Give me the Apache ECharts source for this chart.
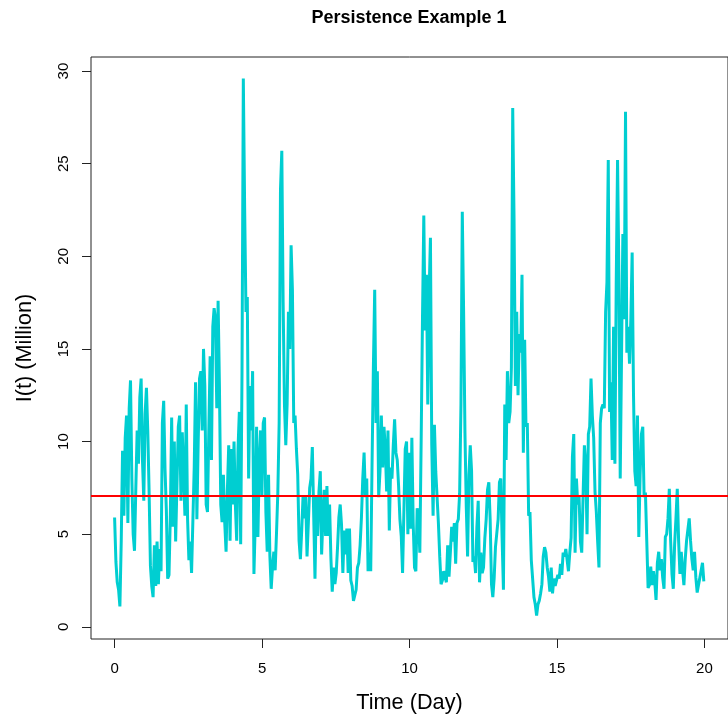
<!DOCTYPE html>
<html>
<head>
<meta charset="utf-8">
<script src="https://cdn.jsdelivr.net/npm/echarts@6/dist/echarts.min.js"></script>
<style>html,body{margin:0;padding:0;background:#fff}#c{width:728px;height:721px}</style>
</head>
<body>
<div id="c"></div>
<script>
// time step between samples (days)
const dt = 0.045;
// I(t) in millions
const infected = [
5.9,3.5,2.4,2.0,1.1,4.6,9.5,6.0,10.2,11.4,
5.6,11.8,13.3,8.0,5.0,4.1,7.5,10.6,8.8,12.4,
13.4,9.0,6.8,11.5,12.9,10.6,7.3,3.3,2.2,1.6,
4.4,2.2,4.6,2.3,4.2,3.0,11.0,12.2,8.5,6.3,
2.6,2.8,6.0,11.3,5.4,10.0,4.6,4.5,10.8,11.4,
6.8,10.5,10.5,6.0,12.0,5.8,3.6,4.6,2.9,2.8,
8.6,13.2,5.8,10.0,13.4,13.8,10.6,15.0,13.0,
6.6,6.2,10.6,14.6,9.0,16.2,17.2,16.6,11.8,17.6,
13.0,6.6,5.65,8.2,5.6,4.05,7.4,9.8,4.65,9.6,
6.6,10.0,6.6,4.65,9.6,11.6,4.45,13.6,29.6,22.6,
17.0,17.8,8.0,13.0,10.6,13.8,2.85,5.65,10.8,4.85,
8.8,10.6,7.05,11.0,11.3,6.2,4.05,8.2,3.85,2.05,
3.25,4.05,3.05,5.05,7.25,11.0,23.6,25.7,17.5,12.0,
9.8,12.0,17.0,15.0,20.6,18.2,11.0,11.4,9.6,8.2,
4.65,3.65,5.2,7.05,5.85,
7.0,3.8,5.6,7.5,8.0,9.7,9.6,2.6,7.0,4.9,
7.3,8.4,3.9,5.9,7.4,4.9,7.6,4.9,6.6,3.7,
1.9,3.2,2.3,2.9,4.3,5.9,6.6,5.5,2.9,5.2,
3.9,5.3,2.9,5.3,2.5,2.2,1.4,1.3,2.0,3.2,
3.45,4.4,5.9,8.0,9.4,7.0,8.0,3.0,4.0,3.0,
8.8,14.0,18.2,11.0,13.8,7.0,8.4,11.4,8.6,10.8,
9.6,7.3,10.6,5.2,8.6,8.0,9.8,11.2,9.4,9.0,
7.6,5.8,4.9,2.9,3.0,
9.6,10.0,5.0,9.4,5.3,10.2,5.6,3.2,3.0,6.4,
5.8,4.0,10.0,16.6,22.2,16.0,19.0,12.0,18.0,21.0,
9.8,6.0,10.9,8.4,7.0,5.6,3.8,2.3,2.5,3.0,
3.1,2.4,4.4,2.7,4.0,5.4,4.6,5.6,3.4,5.6,
5.8,7.2,12.0,22.4,17.0,10.5,6.5,3.8,8.2,9.8,
8.4,3.5,3.8,2.9,5.4,6.8,2.4,4.0,2.9,3.2,
4.8,5.8,7.4,7.8,5.8,2.3,1.6,2.6,4.3,4.4,
5.8,7.8,8.0,4.8,2.0,
12.0,9.0,13.8,11.0,11.6,14.0,28.0,22.0,13.0,17.0,
12.5,15.8,14.8,19.0,9.4,15.5,10.8,11.0,6.0,6.2,
3.6,2.6,1.6,1.2,0.6,1.2,1.4,1.8,2.3,3.8,
4.3,4.0,3.2,2.7,1.9,3.2,1.8,2.6,2.2,2.5,
2.8,2.6,3.4,2.8,4.0,3.8,4.2,3.6,3.0,4.0,
4.8,9.2,10.4,4.0,8.0,6.6,7.0,4.6,4.0,7.0,
9.8,8.8,5.0,10.4,10.8,13.4,11.4,10.2,7.3,6.2,
4.6,3.2,11.0,11.8,12.0,
11.8,17.0,18.6,25.2,11.6,13.2,9.0,16.2,8.8,18.6,
25.2,19.0,8.0,8.0,21.2,16.6,27.8,14.8,16.2,14.2,
16.6,20.2,12.6,8.4,7.6,11.4,4.85,8.2,10.4,10.8,
7.0,7.25,4.65,2.1,2.25,3.25,2.25,3.0,2.45,1.45,
3.45,4.05,3.05,3.65,2.65,2.05,4.85,5.0,5.85,7.45,
4.65,2.85,2.05,4.45,5.85,7.45,4.65,2.85,4.05,3.05,
2.25,3.65,4.65,5.25,5.85,4.65,3.65,3.05,4.05,2.65,
1.85,2.25,2.65,3.05,3.45,2.45
];
const threshold = 7.1;
const xTicks = [0, 5, 10, 15, 20];
const yTicks = [0, 5, 10, 15, 20, 25, 30];

const seriesData = infected.map((v, i) => [i * dt, v]);
const font = '"Liberation Sans", Arial, Helvetica, sans-serif';

const chart = echarts.init(document.getElementById('c'), null, {renderer: 'canvas'});
chart.setOption({
  animation: false,
  backgroundColor: '#ffffff',
  title: {
    text: 'Persistence Example 1',
    left: 409, top: 9, textAlign: 'center', padding: 0,
    textStyle: {fontFamily: font, fontSize: 18, fontWeight: 'bold', color: '#000'}
  },
  grid: {
    left: 91, top: 57, width: 638, height: 582,
    show: true, borderColor: '#222', borderWidth: 1, backgroundColor: 'transparent'
  },
  xAxis: {
    type: 'value', min: -0.8, max: 20.8,
    name: 'Time (Day)', nameLocation: 'middle', nameGap: 53,
    nameTextStyle: {fontFamily: font, fontSize: 21.7, color: '#000'},
    axisLine: {show: false, onZero: false},
    splitLine: {show: false},
    axisTick: {show: true, customValues: xTicks, length: 9, lineStyle: {color: '#222', width: 1}},
    axisLabel: {customValues: xTicks, margin: 22, fontFamily: font, fontSize: 15, color: '#000'}
  },
  yAxis: {
    type: 'value', min: -0.66, max: 30.76,
    name: 'I(t) (Million)', nameLocation: 'middle', nameGap: 55,
    nameTextStyle: {fontFamily: font, fontSize: 21.7, color: '#000'},
    axisLine: {show: false, onZero: false},
    splitLine: {show: false},
    axisTick: {show: true, customValues: yTicks, length: 9, lineStyle: {color: '#222', width: 1}},
    axisLabel: {customValues: yTicks, rotate: 90, margin: 20, fontFamily: font, fontSize: 15, color: '#000'}
  },
  series: [{
    type: 'line',
    data: seriesData,
    showSymbol: false,
    sampling: 'none',
    lineStyle: {color: '#00CED1', width: 3},
    itemStyle: {color: '#00CED1'},
    markLine: {
      silent: true,
      symbol: 'none',
      label: {show: false},
      lineStyle: {color: '#FF0000', width: 2, type: 'solid'},
      data: [{yAxis: threshold}]
    }
  }]
});
</script>
</body>
</html>
